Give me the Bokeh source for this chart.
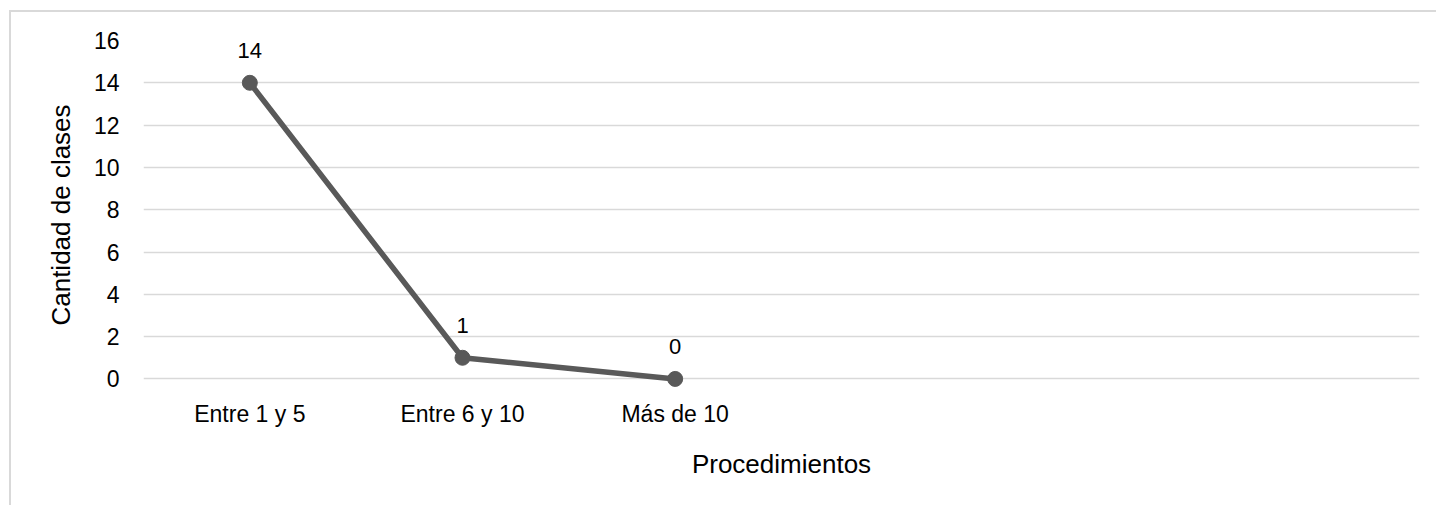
from bokeh.plotting import figure
from bokeh.models import Range1d, FactorRange, ColumnDataSource, FixedTicker
from bokeh.core.properties import value
from bokeh.embed import file_html
from bokeh.resources import INLINE

categories = ["Entre 1 y 5", "Entre 6 y 10", "Más de 10"]
padding = [" ", "  ", "   "]
values = [14, 1, 0]
labels = ["14", "1", "0"]
y_ticks = [0, 2, 4, 6, 8, 10, 12, 14, 16]
x_title = "Procedimientos"
y_title = "Cantidad de clases"

FONT = "Liberation Sans"
GRAY = "#595959"
GRID = "#d9d9d9"

p = figure(
    x_range=FactorRange(*(categories + padding), range_padding=0),
    y_range=Range1d(-0.5, 16),
    width=1427, height=495,
    output_backend="svg", toolbar_location=None,
    min_border_left=132, min_border_right=19, min_border_top=28, min_border_bottom=118,
)
p.margin = (10, 0, 0, 9)
p.styles = {"border-top": "2px solid #d9d9d9", "border-left": "2px solid #d9d9d9"}
p.outline_line_color = None
p.background_fill_color = "white"
p.border_fill_color = "white"

src = ColumnDataSource(dict(x=categories, y=values, t=labels))
p.line("x", "y", source=src, line_color=GRAY, line_width=5.5)
p.scatter("x", "y", source=src, size=15, fill_color=GRAY, line_color=GRAY)
p.text("x", "y", text="t", source=src, y_offset=-32, text_align="center",
       text_baseline="middle", text_font=value(FONT), text_font_size="22px",
       text_color="black")

p.xgrid.grid_line_color = None
p.ygrid.grid_line_color = GRID
p.ygrid.grid_line_width = 1.5
p.yaxis.ticker = FixedTicker(ticks=y_ticks)

for ax in (p.xaxis[0], p.yaxis[0]):
    ax.axis_line_color = None
    ax.major_tick_line_color = None
    ax.minor_tick_line_color = None
    ax.major_tick_out = 0
    ax.major_tick_in = 0
    ax.major_label_text_font = FONT
    ax.major_label_text_font_size = "23px"
    ax.major_label_text_color = "black"
    ax.axis_label_text_font = FONT
    ax.axis_label_text_font_size = "26px"
    ax.axis_label_text_font_style = "normal"
    ax.axis_label_text_color = "black"

p.xaxis.axis_label = x_title
p.yaxis.axis_label = y_title
p.xaxis.major_label_standoff = 11
p.yaxis.major_label_standoff = 24
p.xaxis.axis_label_standoff = 19
p.yaxis.axis_label_standoff = 15

open("out.html", "w").write(file_html(p, INLINE))
